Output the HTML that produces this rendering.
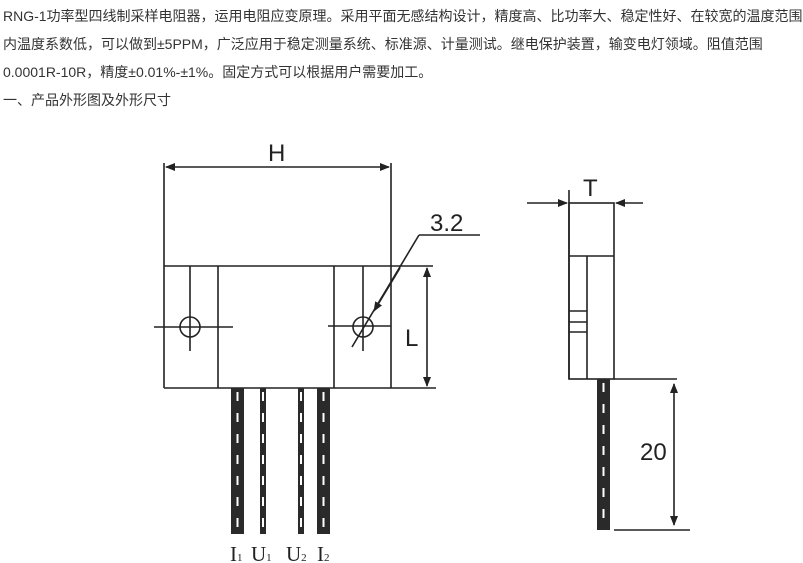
<!DOCTYPE html>
<html><head><meta charset="utf-8"><style>
html,body{margin:0;padding:0;background:#fff;width:803px;height:563px;overflow:hidden}
.t{position:absolute;left:3px;font-family:"Liberation Sans","Noto Sans CJK SC",sans-serif;font-size:14px;color:#333;white-space:nowrap;line-height:28px}
svg{position:absolute;left:0;top:0}
</style></head><body>
<div class="t" style="top:2px">RNG-1功率型四线制采样电阻器，运用电阻应变原理。采用平面无感结构设计，精度高、比功率大、稳定性好、在较宽的温度范围</div>
<div class="t" style="top:30px">内温度系数低，可以做到±5PPM，广泛应用于稳定测量系统、标准源、计量测试。继电保护装置，输变电灯领域。阻值范围</div>
<div class="t" style="top:58px">0.0001R-10R，精度±0.01%-±1%。固定方式可以根据用户需要加工。</div>
<div class="t" style="top:86px">一、产品外形图及外形尺寸</div>
<svg width="803" height="563" viewBox="0 0 803 563" font-family="Liberation Sans, sans-serif">
<defs><marker id="a" markerWidth="10" markerHeight="8" refX="9" refY="4" orient="auto" markerUnits="userSpaceOnUse"><path d="M0,0 L10,4 L0,8 z" fill="#222"/></marker></defs>
<g stroke="#222" stroke-width="1.6" fill="none">
<line x1="164" y1="163" x2="164" y2="388"/>
<line x1="391" y1="163" x2="391" y2="388"/>
<line x1="278" y1="167" x2="389" y2="167" marker-end="url(#a)"/>
<line x1="278" y1="167" x2="166" y2="167" marker-end="url(#a)"/>
<line x1="164" y1="266" x2="433" y2="266"/>
<line x1="164" y1="388" x2="436" y2="388"/>
<line x1="218" y1="266" x2="218" y2="388"/>
<line x1="334" y1="266" x2="334" y2="388"/>
<circle cx="190" cy="327" r="10"/>
<line x1="190" y1="266" x2="190" y2="351"/>
<line x1="154" y1="327" x2="233" y2="327"/>
<circle cx="363" cy="327" r="10"/>
<line x1="363" y1="266" x2="363" y2="351"/>
<line x1="328" y1="326" x2="391" y2="326"/>
<line x1="419" y1="235" x2="480" y2="235"/>
<line x1="352" y1="347" x2="419" y2="235"/>
<line x1="400" y1="268" x2="374" y2="311" marker-end="url(#a)"/>
<line x1="427" y1="327" x2="427" y2="268" marker-end="url(#a)"/>
<line x1="427" y1="327" x2="427" y2="386" marker-end="url(#a)"/>
<!-- side -->
<line x1="569" y1="190" x2="569" y2="379"/>
<rect x="569" y="203" width="45" height="176"/>
<line x1="569" y1="256" x2="614" y2="256"/>
<line x1="587" y1="256" x2="587" y2="379"/>
<line x1="569" y1="311" x2="587" y2="311"/>
<line x1="569" y1="322" x2="587" y2="322"/>
<line x1="569" y1="332" x2="587" y2="332"/>
<line x1="527" y1="203" x2="567" y2="203" marker-end="url(#a)"/>
<line x1="643" y1="203" x2="616" y2="203" marker-end="url(#a)"/>
<line x1="614" y1="379" x2="677" y2="379"/>
<line x1="614" y1="530" x2="690" y2="530"/>
<line x1="674" y1="450" x2="674" y2="384" marker-end="url(#a)"/>
<line x1="674" y1="450" x2="674" y2="525" marker-end="url(#a)"/>
</g>
<g fill="#2a2a2a">
<rect x="231" y="388" width="13" height="146"/>
<rect x="260" y="388" width="6" height="146"/>
<rect x="298" y="388" width="6" height="146"/>
<rect x="317" y="388" width="13" height="146"/>
<rect x="597" y="379" width="13" height="151"/>
</g>
<g stroke="#fff" stroke-width="2" stroke-dasharray="9,12">
<line x1="237.5" y1="392" x2="237.5" y2="532"/>
<line x1="263" y1="392" x2="263" y2="532"/>
<line x1="301" y1="392" x2="301" y2="532"/>
<line x1="323.5" y1="392" x2="323.5" y2="532"/>
<line x1="603.5" y1="383" x2="603.5" y2="528"/>
</g>
<g fill="#222" font-size="24">
<text x="268" y="161">H</text>
<text x="430" y="231">3.2</text>
<text x="405" y="346">L</text>
<text x="583" y="196">T</text>
<text x="640" y="460">20</text>
</g>
<g fill="#222" font-size="21" font-family="Liberation Serif, serif">
<text x="230" y="561">I<tspan font-size="11">1</tspan></text>
<text x="251" y="561">U<tspan font-size="11">1</tspan></text>
<text x="286" y="561">U<tspan font-size="11">2</tspan></text>
<text x="317" y="561">I<tspan font-size="11">2</tspan></text>
</g>
</svg>
</body></html>
